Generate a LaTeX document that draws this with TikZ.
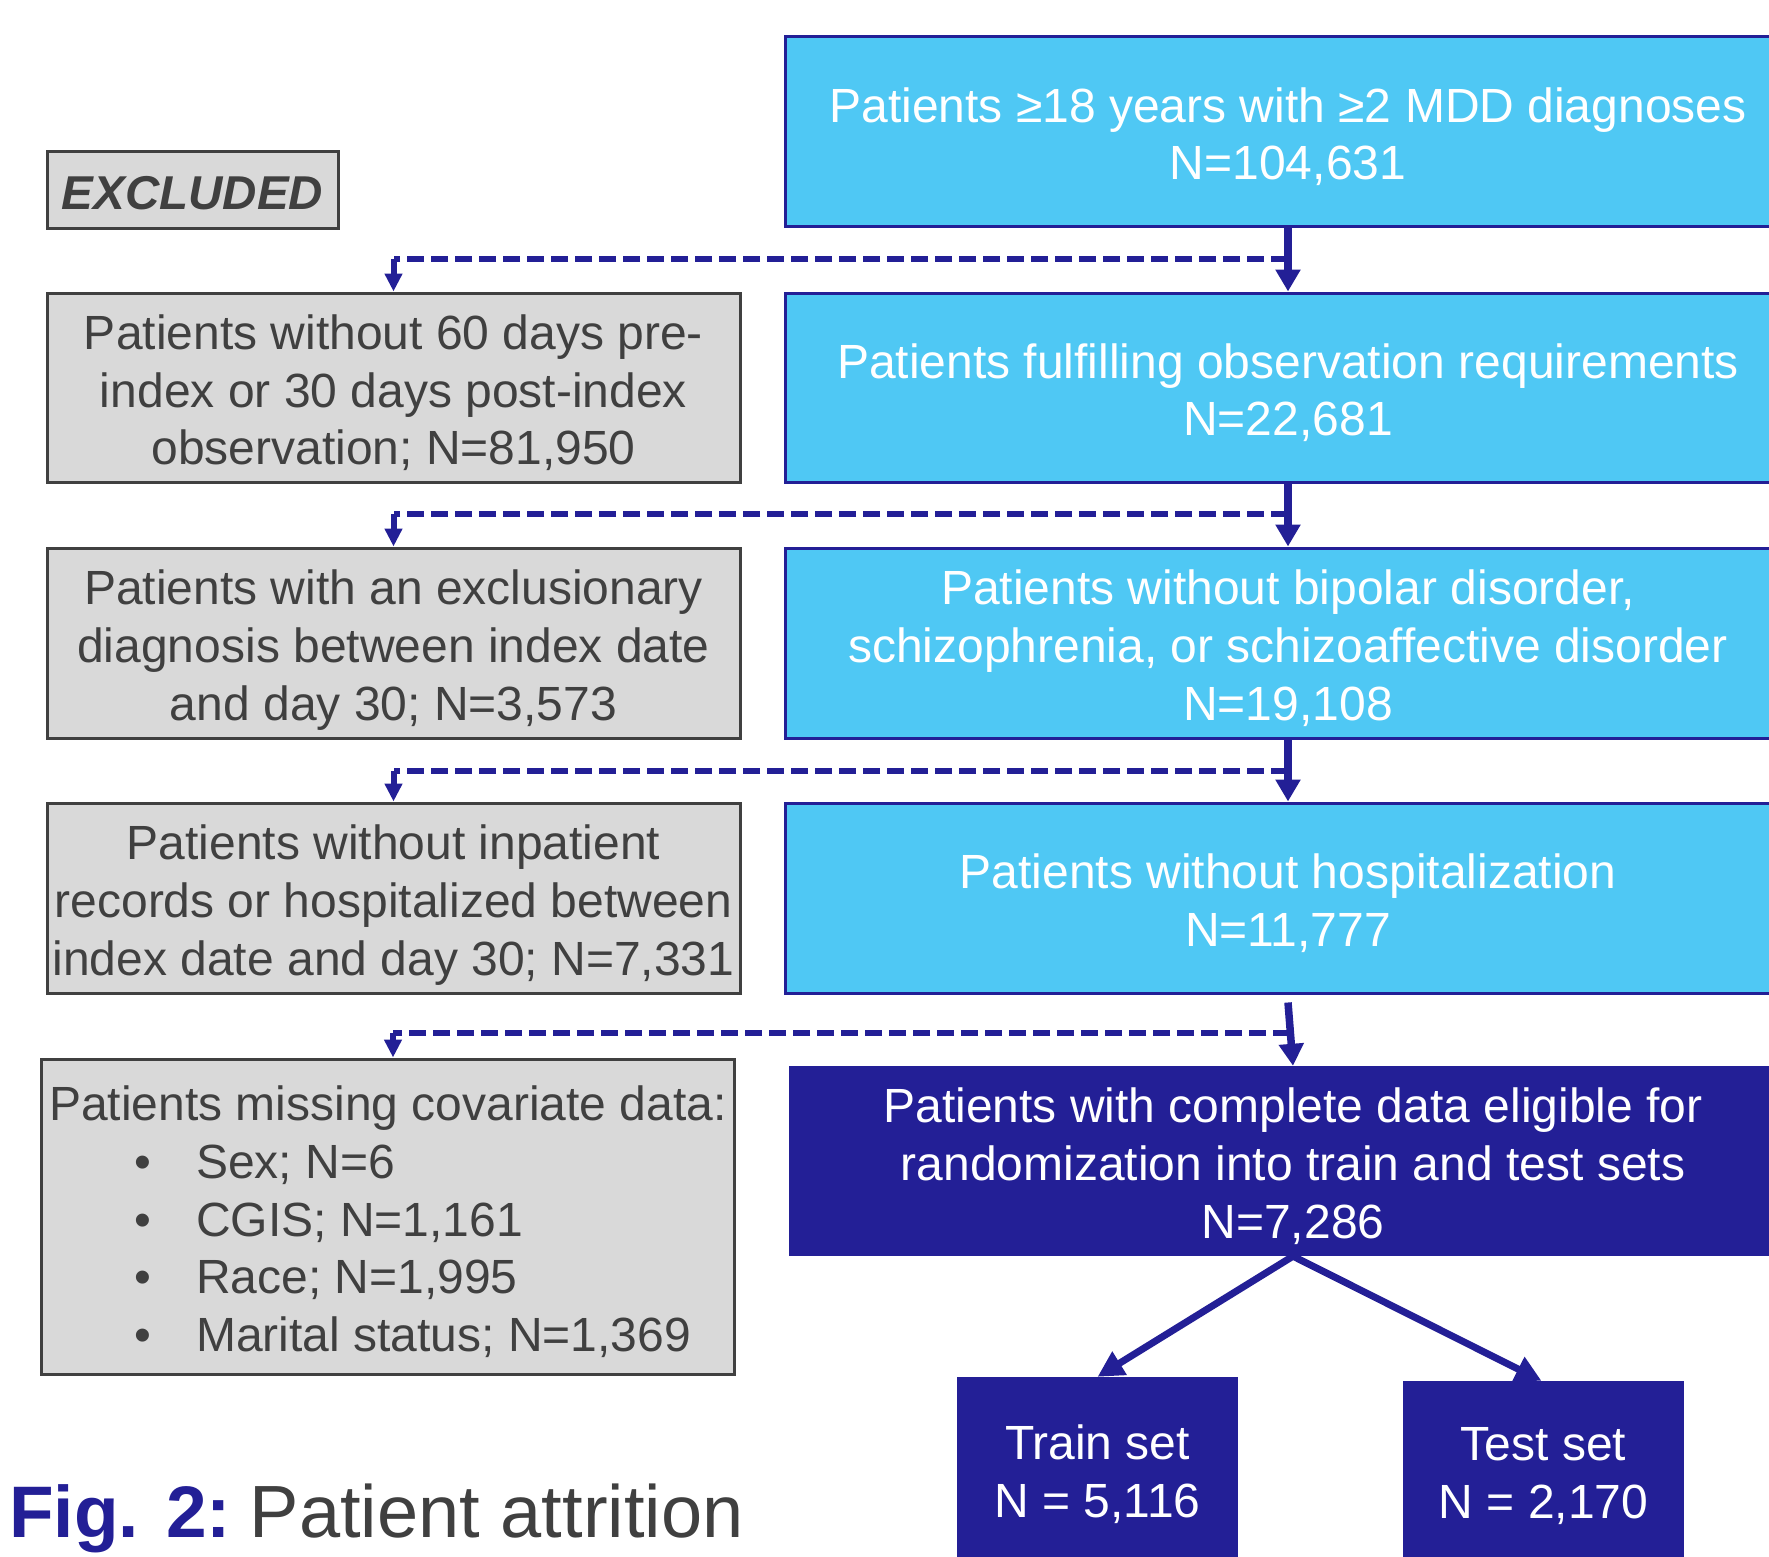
\documentclass[tikz,border=0pt]{standalone}
\usepackage{fontspec}
\setmainfont{Liberation Sans}
\usetikzlibrary{arrows.meta}
\definecolor{dkblue}{RGB}{35,31,150}
\definecolor{ltblue}{RGB}{79,200,244}
\definecolor{gfill}{RGB}{217,217,217}
\definecolor{gtext}{RGB}{64,64,64}
\newcommand\ft{\rule{0pt}{50pt}}
\newcommand\lt{\rule[-11pt]{0pt}{11pt}}
\begin{document}
\begin{tikzpicture}[x=1pt,y=-1pt,
  txt/.style={font=\fontsize{48}{57.8}\selectfont, align=center, inner sep=0pt},
  bluebox/.style={txt, draw=dkblue, line width=3pt, fill=ltblue, text=white, minimum width=1006pt},
  graybox/.style={txt, draw=gtext, line width=3pt, fill=gfill, text=gtext, minimum width=693pt},
  darkbox/.style={txt, fill=dkblue, text=white},
  flow/.style={draw=dkblue, line width=7.5pt, -{Triangle[length=22pt,width=24pt]}},
  dashline/.style={draw=dkblue, line width=6.5pt, dash pattern=on 17pt off 7pt},
  drop/.style={draw=dkblue, line width=6pt, -{Triangle[length=18pt,width=17pt]}},
  split/.style={draw=dkblue, line width=7pt, -{Triangle[length=26pt,width=26pt]}}
]
\useasboundingbox (0,0) rectangle (1769,1557);
\clip (0,0) rectangle (1769,1557);

% excluded label
\node[graybox, minimum width=291pt, minimum height=76pt, font=\fontsize{47.5}{57.8}\selectfont\bfseries\itshape] (ex) at (192.5,190) {\ft EXCLUDED\lt};

% main column
\node[bluebox, minimum height=189pt] (b1) at (1288,131.5) {\ft Patients ≥18 years with ≥2 MDD diagnoses\\N=104,631\lt};
\node[bluebox, minimum height=189pt] (b2) at (1288,387.5) {\ft Patients fulfilling observation requirements\\N=22,681\lt};
\node[bluebox, minimum height=190pt] (b3) at (1288,643) {\ft Patients without bipolar disorder,\\schizophrenia, or schizoaffective disorder\\N=19,108\lt};
\node[bluebox, minimum height=190pt] (b4) at (1288,898) {\ft Patients without hospitalization\\N=11,777\lt};
\node[darkbox, minimum width=1008pt, minimum height=190pt] (dk) at (1293,1161) {\ft Patients with complete data eligible for\\randomization into train and test sets\\N=7,286\lt};

% excluded column
\node[graybox, minimum height=189pt] (g1) at (393.5,387.5) {\ft Patients without 60 days pre-\\index or 30 days post-index\\observation; N=81,950\lt};
\node[graybox, minimum height=190pt] (g2) at (393.5,643) {\ft Patients with an exclusionary\\diagnosis between index date\\and day 30; N=3,573\lt};
\node[graybox, minimum height=190pt] (g3) at (393.5,898) {\ft Patients without inpatient\\records or hospitalized between\\index date and day 30; N=7,331\lt};
\node[graybox, minimum height=315pt, align=left] (g4) at (388,1216.5) {\ft Patients missing covariate data:\\
\hspace*{85pt}\makebox[62pt][l]{\textbullet}Sex; N=6\\
\hspace*{85pt}\makebox[62pt][l]{\textbullet}CGIS; N=1,161\\
\hspace*{85pt}\makebox[62pt][l]{\textbullet}Race; N=1,995\\
\hspace*{85pt}\makebox[62pt][l]{\textbullet}Marital status; N=1,369\lt};

% split
\node[darkbox, minimum width=281pt, minimum height=194pt] (tr) at (1097.5,1474) {Train set\\N = 5,116};
\node[darkbox, minimum width=281pt, minimum height=190pt] (te) at (1543.5,1476) {Test set\\N = 2,170};

% caption
\node[anchor=base west, inner sep=0pt, font=\fontsize{74}{80}\selectfont] (cap) at (9,1537) {\textcolor{dkblue}{\fontsize{73}{80}\selectfont\bfseries Fig. 2:}\hspace{19pt}\textcolor{gtext}{Patient attrition}};

% junctions
\coordinate (j1) at (1288,259);
\coordinate (j2) at (1288,514);
\coordinate (j3) at (1288,771);
\coordinate (j4) at (1290,1033);
\coordinate (d4) at (393,1033);

% main flow
\draw[flow] (b1.south) -- (b2.north);
\draw[flow] (b2.south) -- (b3.north);
\draw[flow] (b3.south) -- (b4.north);
\draw[flow] ([yshift=-8pt]b4.south) -- (dk.north);

% exclusions
\draw[dashline] (j1) -- (j1 -| g1.north);
\draw[drop] (j1 -| g1.north) -- (g1.north);
\draw[dashline] (j2) -- (j2 -| g2.north);
\draw[drop] (j2 -| g2.north) -- (g2.north);
\draw[dashline] (j3) -- (j3 -| g3.north);
\draw[drop] (j3 -| g3.north) -- (g3.north);
\draw[dashline] (j4) -- (d4);
\draw[drop] (d4) -- (d4 |- g4.north);

% train/test
\draw[split] (dk.south) -- (tr.north);
\draw[split] (dk.south) -- ([xshift=-2pt]te.north);
\end{tikzpicture}
\end{document}
